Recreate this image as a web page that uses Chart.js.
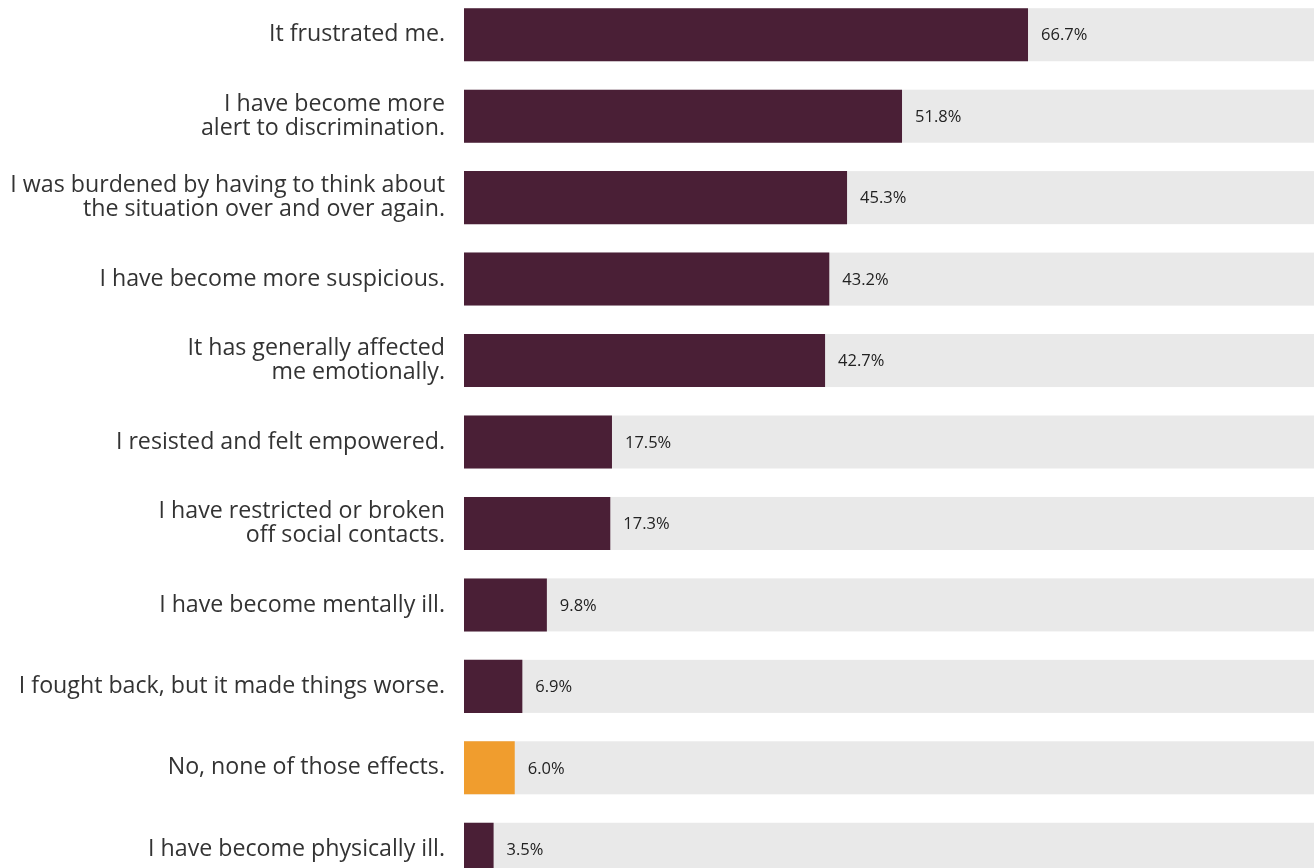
<!DOCTYPE html>
<html>
<head>
<meta charset="utf-8">
<script src="https://cdn.jsdelivr.net/npm/chart.js@4.4.0/dist/chart.umd.min.js"></script>
<style>
  html, body { margin: 0; padding: 0; background: #ffffff; overflow: hidden; }
  #wrap { position: absolute; left: 0; top: -6px; }
</style>
</head>
<body>
<div id="wrap"><canvas id="chart" width="1314" height="896"></canvas></div>
<script>
// Effects reported by respondents (share of respondents, %)
const categories = [
  "It frustrated me.",
  ["I have become more", "alert to discrimination."],
  ["I was burdened by having to think about", "the situation over and over again."],
  "I have become more suspicious.",
  ["It has generally affected", "me emotionally."],
  "I resisted and felt empowered.",
  ["I have restricted or broken", "off social contacts."],
  "I have become mentally ill.",
  "I fought back, but it made things worse.",
  "No, none of those effects.",
  "I have become physically ill."
];
const shares = [66.7, 51.8, 45.3, 43.2, 42.7, 17.5, 17.3, 9.8, 6.9, 6.0, 3.5];
const noneCategory = "No, none of those effects.";

const BAR = "#4a1f36";
const HIGHLIGHT = "#f09d2e";
const TRACK = "#e9e9e9";

const barColors = categories.map(c => c === noneCategory ? HIGHLIGHT : BAR);

// Grey track behind every bar, reaching the right edge of the canvas
const trackPlugin = {
  id: "track",
  beforeDatasetsDraw(chart) {
    const ctx = chart.ctx;
    const area = chart.chartArea;
    const meta = chart.getDatasetMeta(0);
    ctx.save();
    ctx.fillStyle = TRACK;
    meta.data.forEach(bar => {
      const h = bar.height;
      ctx.fillRect(area.left, bar.y - h / 2, chart.width - area.left, h);
    });
    ctx.restore();
  }
};

// Percentage label just after the end of each bar
const valueLabels = {
  id: "valueLabels",
  afterDatasetsDraw(chart) {
    const ctx = chart.ctx;
    const meta = chart.getDatasetMeta(0);
    const data = chart.data.datasets[0].data;
    ctx.save();
    ctx.font = "16.5px 'Open Sans'";
    ctx.fillStyle = "#222222";
    ctx.textAlign = "left";
    ctx.textBaseline = "middle";
    meta.data.forEach((bar, i) => {
      ctx.fillText(data[i].toFixed(1) + "%", bar.x + 13, bar.y + 1);
    });
    ctx.restore();
  }
};

new Chart(document.getElementById("chart"), {
  type: "bar",
  data: {
    labels: categories,
    datasets: [{
      data: shares,
      backgroundColor: barColors,
      borderWidth: 0,
      barPercentage: 0.651,
      categoryPercentage: 1
    }]
  },
  options: {
    indexAxis: "y",
    responsive: false,
    animation: false,
    devicePixelRatio: 1,
    events: [],
    layout: { padding: { left: 0, right: 4.4, top: 0, bottom: 0 } },
    plugins: {
      legend: { display: false },
      tooltip: { enabled: false }
    },
    scales: {
      x: {
        display: false,
        min: 0,
        max: 100
      },
      y: {
        afterFit(scale) {
          scale.width = 464;
          scale.paddingTop = 0;
          scale.paddingBottom = 0;
        },
        grid: { display: false, drawTicks: false },
        border: { display: false },
        ticks: {
          padding: 19,
          color: "#333333",
          font: { family: "'Open Sans'", size: 23.2, lineHeight: 1.035 }
        }
      }
    }
  },
  plugins: [trackPlugin, valueLabels]
});
</script>
</body>
</html>
